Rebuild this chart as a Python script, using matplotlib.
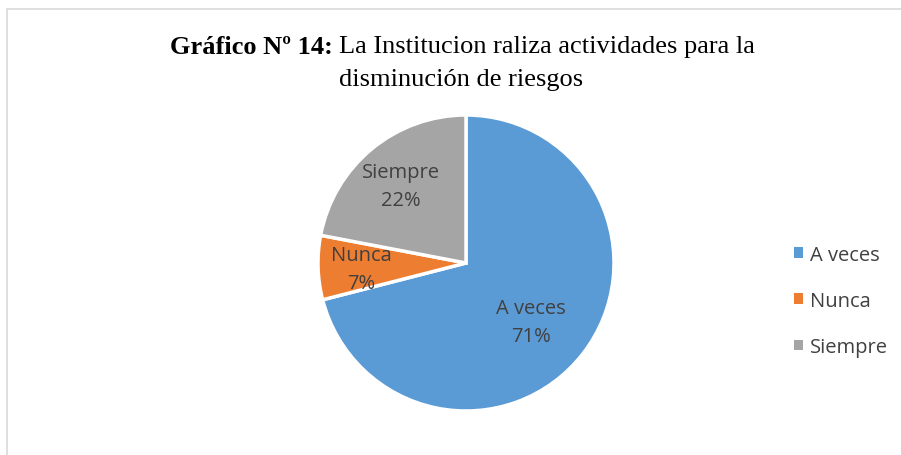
import matplotlib.pyplot as plt
import numpy as np
from matplotlib.patches import Rectangle, Patch

labels = ["A veces", "Nunca", "Siempre"]
values = [71, 7, 22]
colors = ["#5B9BD5", "#ED7D31", "#A5A5A5"]

W, H = 901, 456
fig = plt.figure(figsize=(W / 100, H / 100), dpi=100)

# chart area border (only top and left visible in the crop)
fig.patches.append(Rectangle((7 / W, -0.1), 1.2, 1 - 10 / H + 0.1, transform=fig.transFigure,
                             fill=False, edgecolor="#D9D9D9", linewidth=1.2))

cx, cy, r = 466, 264, 148
ax = fig.add_axes([(cx - r) / W, (H - cy - r) / H, 2 * r / W, 2 * r / H])
wedges, _ = ax.pie(values, colors=colors, startangle=90, counterclock=False,
                   wedgeprops=dict(edgecolor="white", linewidth=2.5))
ax.set_xlim(-1, 1)
ax.set_ylim(-1, 1)
ax.set_aspect("equal")

# label placement: distance from centre and small angle nudge (degrees)
dists = [0.59, 0.71, 0.68]
nudge = [-4.5, 1.5, 0.5]
for w, lab, v, d, n in zip(wedges, labels, values, dists, nudge):
    ang = np.deg2rad((w.theta1 + w.theta2) / 2 + n)
    ax.text(d * np.cos(ang), d * np.sin(ang), f"{lab}\n{v}%", ha="center", va="center",
            fontsize=14.5, color="#404040", family="Open Sans", linespacing=1.5)

serif = "Liberation Serif"
fs = 19
fig.text(333 / W, 1 - 47 / H, "Gráfico Nº 14:", ha="right", va="center",
         fontsize=fs, fontweight="bold", family=serif)
fig.text(339 / W, 1 - 47 / H, "La Institucion raliza actividades para la", ha="left",
         va="center", fontsize=fs, family=serif)
fig.text(461 / W, 1 - 80 / H, "disminución de riesgos", ha="center", va="center",
         fontsize=fs, family=serif)

handles = [Patch(facecolor=c, edgecolor="none") for c in colors]
leg = fig.legend(handles, labels, loc="center left", bbox_to_anchor=(776 / W, 1 - 302 / H),
                 frameon=False, handlelength=0.45, handleheight=0.45, handletextpad=0.35,
                 labelspacing=1.3, prop={"family": "Open Sans", "size": 14.5})
for t in leg.get_texts():
    t.set_color("#404040")

fig.savefig("out.png", dpi=100)
